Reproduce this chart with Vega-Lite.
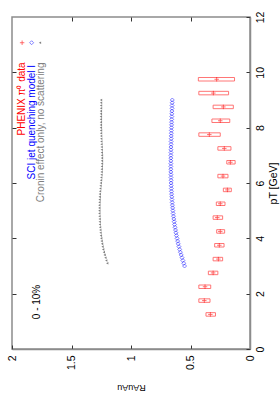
{
  "$schema": "https://vega.github.io/schema/vega-lite/v6.json",
  "autosize": "none",
  "width": 238,
  "height": 332,
  "padding": {"left": 12, "top": 17, "right": 30, "bottom": 51},
  "background": "white",
  "config": {
    "view": {"stroke": "#8c8c8c", "strokeWidth": 1.5},
    "font": "Liberation Sans",
    "axis": {"grid": false, "domainColor": "#8c8c8c", "domainWidth": 1.5, "tickColor": "#333333", "labelFont": "Liberation Sans", "titleFont": "Liberation Sans", "labelFontSize": 10, "titleFontSize": 11, "titleFontWeight": "normal", "labelColor": "#000000", "titleColor": "#000000"}
  },
  "datasets": {
    "phenix": [
      {"pT": 1.25, "R": 0.333, "lo": 0.29, "hi": 0.37},
      {"pT": 1.75, "R": 0.384, "lo": 0.336, "hi": 0.43},
      {"pT": 2.25, "R": 0.378, "lo": 0.33, "hi": 0.43},
      {"pT": 2.75, "R": 0.31, "lo": 0.27, "hi": 0.35},
      {"pT": 3.25, "R": 0.266, "lo": 0.23, "hi": 0.31},
      {"pT": 3.75, "R": 0.258, "lo": 0.218, "hi": 0.297},
      {"pT": 4.25, "R": 0.25, "lo": 0.213, "hi": 0.28},
      {"pT": 4.75, "R": 0.275, "lo": 0.23, "hi": 0.31},
      {"pT": 5.25, "R": 0.25, "lo": 0.21, "hi": 0.283},
      {"pT": 5.75, "R": 0.19, "lo": 0.157, "hi": 0.224},
      {"pT": 6.25, "R": 0.227, "lo": 0.185, "hi": 0.27},
      {"pT": 6.75, "R": 0.165, "lo": 0.125, "hi": 0.195},
      {"pT": 7.25, "R": 0.216, "lo": 0.16, "hi": 0.27},
      {"pT": 7.75, "R": 0.342, "lo": 0.25, "hi": 0.43},
      {"pT": 8.25, "R": 0.25, "lo": 0.17, "hi": 0.32},
      {"pT": 8.75, "R": 0.224, "lo": 0.14, "hi": 0.31},
      {"pT": 9.25, "R": 0.308, "lo": 0.18, "hi": 0.43},
      {"pT": 9.75, "R": 0.28, "lo": 0.13, "hi": 0.434}
    ],
    "sci": [
      {"pT": 3.0, "R": 0.550}, {"pT": 3.1, "R": 0.557}, {"pT": 3.2, "R": 0.564}, {"pT": 3.3, "R": 0.571}, {"pT": 3.4, "R": 0.578},
      {"pT": 3.5, "R": 0.585}, {"pT": 3.6, "R": 0.591}, {"pT": 3.7, "R": 0.597}, {"pT": 3.8, "R": 0.603}, {"pT": 3.9, "R": 0.608},
      {"pT": 4.0, "R": 0.613}, {"pT": 4.1, "R": 0.618}, {"pT": 4.2, "R": 0.622}, {"pT": 4.3, "R": 0.626}, {"pT": 4.4, "R": 0.630},
      {"pT": 4.5, "R": 0.634}, {"pT": 4.6, "R": 0.637}, {"pT": 4.7, "R": 0.640}, {"pT": 4.8, "R": 0.643}, {"pT": 4.9, "R": 0.646},
      {"pT": 5.0, "R": 0.648}, {"pT": 5.1, "R": 0.650}, {"pT": 5.2, "R": 0.652}, {"pT": 5.3, "R": 0.654}, {"pT": 5.4, "R": 0.656},
      {"pT": 5.5, "R": 0.657}, {"pT": 5.6, "R": 0.659}, {"pT": 5.7, "R": 0.660}, {"pT": 5.8, "R": 0.661}, {"pT": 5.9, "R": 0.662},
      {"pT": 6.0, "R": 0.663}, {"pT": 6.1, "R": 0.663}, {"pT": 6.2, "R": 0.664}, {"pT": 6.3, "R": 0.664}, {"pT": 6.4, "R": 0.665},
      {"pT": 6.5, "R": 0.665}, {"pT": 6.6, "R": 0.665}, {"pT": 6.7, "R": 0.665}, {"pT": 6.8, "R": 0.665}, {"pT": 6.9, "R": 0.665},
      {"pT": 7.0, "R": 0.665}, {"pT": 7.1, "R": 0.664}, {"pT": 7.2, "R": 0.664}, {"pT": 7.3, "R": 0.664}, {"pT": 7.4, "R": 0.663},
      {"pT": 7.5, "R": 0.663}, {"pT": 7.6, "R": 0.662}, {"pT": 7.7, "R": 0.662}, {"pT": 7.8, "R": 0.661}, {"pT": 7.9, "R": 0.661},
      {"pT": 8.0, "R": 0.660}, {"pT": 8.1, "R": 0.659}, {"pT": 8.2, "R": 0.659}, {"pT": 8.3, "R": 0.658}, {"pT": 8.4, "R": 0.657},
      {"pT": 8.5, "R": 0.657}, {"pT": 8.6, "R": 0.656}, {"pT": 8.7, "R": 0.655}, {"pT": 8.8, "R": 0.655}, {"pT": 8.9, "R": 0.654},
      {"pT": 9.0, "R": 0.653}
    ],
    "cronin": [
      {"pT": 3.1, "R": 1.200}, {"pT": 3.2, "R": 1.208}, {"pT": 3.3, "R": 1.215}, {"pT": 3.4, "R": 1.222},
      {"pT": 3.5, "R": 1.228}, {"pT": 3.6, "R": 1.234}, {"pT": 3.7, "R": 1.239}, {"pT": 3.8, "R": 1.243}, {"pT": 3.9, "R": 1.247},
      {"pT": 4.0, "R": 1.250}, {"pT": 4.1, "R": 1.253}, {"pT": 4.2, "R": 1.256}, {"pT": 4.3, "R": 1.258}, {"pT": 4.4, "R": 1.260},
      {"pT": 4.5, "R": 1.262}, {"pT": 4.6, "R": 1.263}, {"pT": 4.7, "R": 1.264}, {"pT": 4.8, "R": 1.265}, {"pT": 4.9, "R": 1.266},
      {"pT": 5.0, "R": 1.266}, {"pT": 5.1, "R": 1.266}, {"pT": 5.2, "R": 1.266}, {"pT": 5.3, "R": 1.265}, {"pT": 5.4, "R": 1.264},
      {"pT": 5.5, "R": 1.263}, {"pT": 5.6, "R": 1.262}, {"pT": 5.7, "R": 1.260}, {"pT": 5.8, "R": 1.258}, {"pT": 5.9, "R": 1.256},
      {"pT": 6.0, "R": 1.254}, {"pT": 6.1, "R": 1.252}, {"pT": 6.2, "R": 1.250}, {"pT": 6.3, "R": 1.248}, {"pT": 6.4, "R": 1.247},
      {"pT": 6.5, "R": 1.246}, {"pT": 6.6, "R": 1.245}, {"pT": 6.7, "R": 1.244}, {"pT": 6.8, "R": 1.244}, {"pT": 6.9, "R": 1.244},
      {"pT": 7.0, "R": 1.244}, {"pT": 7.1, "R": 1.245}, {"pT": 7.2, "R": 1.246}, {"pT": 7.3, "R": 1.247}, {"pT": 7.4, "R": 1.248},
      {"pT": 7.5, "R": 1.249}, {"pT": 7.6, "R": 1.250}, {"pT": 7.7, "R": 1.251}, {"pT": 7.8, "R": 1.252}, {"pT": 7.9, "R": 1.252},
      {"pT": 8.0, "R": 1.253}, {"pT": 8.1, "R": 1.253}, {"pT": 8.2, "R": 1.253}, {"pT": 8.3, "R": 1.253}, {"pT": 8.4, "R": 1.253},
      {"pT": 8.5, "R": 1.253}, {"pT": 8.6, "R": 1.253}, {"pT": 8.7, "R": 1.252}, {"pT": 8.8, "R": 1.252}, {"pT": 8.9, "R": 1.252},
      {"pT": 9.0, "R": 1.252}
    ],
    "legend": [
      {"series": "phenix", "label": "PHENIX π⁰ data", "R": 1.913, "pT": 9.04, "mR": 1.915, "mpT": 11.07},
      {"series": "sci", "label": "SCI jet quenching model I", "R": 1.836, "pT": 8.2, "mR": 1.835, "mpT": 11.07},
      {"series": "cronin", "label": "Cronin effect only, no scattering", "R": 1.76, "pT": 7.83, "mR": 1.765, "mpT": 11.07}
    ],
    "notes": [
      {"label": "0 - 10%", "R": 1.79, "pT": 1.7}
    ]
  },
  "resolve": {"axis": {"x": "independent", "y": "independent"}},
  "layer": [
    {
      "mark": {"type": "rule", "color": "#88e888", "strokeDash": [2, 1.5], "strokeWidth": 1},
      "encoding": {
        "x": {"datum": 1, "type": "quantitative", "scale": {"domain": [0, 2], "reverse": true, "nice": false},
          "axis": {"orient": "bottom", "values": [0, 0.5, 1, 1.5, 2], "tickSize": -4, "labelAngle": 270, "labelPadding": 10, "labelFontSize": 10.5, "title": "RAuAu", "titleAngle": 180, "titleAlign": "center", "titleBaseline": "middle", "titleX": 119, "titleY": 38, "titleFontSize": 9, "format": "~g"}}
      }
    },
    {
      "data": {"name": "phenix"},
      "mark": {"type": "rect", "height": 3.5, "fill": null, "fillOpacity": 0, "stroke": "#ff6666", "strokeWidth": 0.9},
      "encoding": {
        "x": {"field": "lo", "type": "quantitative", "scale": {"domain": [0, 2], "reverse": true, "nice": false},
          "axis": {"orient": "top", "values": [0.5, 1, 1.5], "tickSize": -4, "labels": false, "title": null, "domain": false}},
        "x2": {"field": "hi"},
        "y": {"field": "pT", "type": "quantitative", "scale": {"domain": [0, 12], "nice": false},
          "axis": {"orient": "right", "values": [0, 2, 4, 6, 8, 10, 12], "tickSize": -4, "labelAngle": 270, "labelPadding": 9, "labelFontSize": 10.5, "title": "pT [GeV]", "titleAngle": 270, "titleAlign": "center", "titleBaseline": "middle", "titleX": 23, "titleY": 166, "titleFontSize": 10.5}}
      }
    },
    {
      "data": {"name": "phenix"},
      "mark": {"type": "point", "shape": "M-1,0H1M0,-1V1", "filled": false, "stroke": "#ff0000", "strokeWidth": 0.8, "size": 20},
      "encoding": {
        "x": {"field": "R", "type": "quantitative", "scale": {"domain": [0, 2], "reverse": true, "nice": false}, "axis": null},
        "y": {"field": "pT", "type": "quantitative", "scale": {"domain": [0, 12], "nice": false},
          "axis": {"orient": "left", "values": [2, 4, 6, 8, 10], "tickSize": -4, "labels": false, "title": null, "domain": false}}
      }
    },
    {
      "data": {"name": "sci"},
      "mark": {"type": "point", "shape": "diamond", "filled": false, "stroke": "#1f1fff", "strokeWidth": 0.8, "size": 16},
      "encoding": {
        "x": {"field": "R", "type": "quantitative", "scale": {"domain": [0, 2], "reverse": true, "nice": false}, "axis": null},
        "y": {"field": "pT", "type": "quantitative", "scale": {"domain": [0, 12], "nice": false}, "axis": null}
      }
    },
    {
      "data": {"name": "cronin"},
      "mark": {"type": "point", "shape": "triangle-left", "filled": true, "color": "#808080", "size": 7, "opacity": 1},
      "encoding": {
        "x": {"field": "R", "type": "quantitative", "scale": {"domain": [0, 2], "reverse": true, "nice": false}, "axis": null},
        "y": {"field": "pT", "type": "quantitative", "scale": {"domain": [0, 12], "nice": false}, "axis": null}
      }
    },
    {
      "data": {"name": "legend"},
      "transform": [{"filter": "datum.series === 'phenix'"}],
      "mark": {"type": "point", "shape": "M-1,0H1M0,-1V1", "filled": false, "stroke": "#ff0000", "strokeWidth": 0.8, "size": 20},
      "encoding": {
        "x": {"field": "mR", "type": "quantitative", "scale": {"domain": [0, 2], "reverse": true, "nice": false}, "axis": null},
        "y": {"field": "mpT", "type": "quantitative", "scale": {"domain": [0, 12], "nice": false}, "axis": null}
      }
    },
    {
      "data": {"name": "legend"},
      "transform": [{"filter": "datum.series === 'sci'"}],
      "mark": {"type": "point", "shape": "diamond", "filled": false, "stroke": "#1f1fff", "strokeWidth": 0.8, "size": 16},
      "encoding": {
        "x": {"field": "mR", "type": "quantitative", "scale": {"domain": [0, 2], "reverse": true, "nice": false}, "axis": null},
        "y": {"field": "mpT", "type": "quantitative", "scale": {"domain": [0, 12], "nice": false}, "axis": null}
      }
    },
    {
      "data": {"name": "legend"},
      "transform": [{"filter": "datum.series === 'cronin'"}],
      "mark": {"type": "point", "shape": "triangle-left", "filled": true, "color": "#808080", "size": 7, "opacity": 1},
      "encoding": {
        "x": {"field": "mR", "type": "quantitative", "scale": {"domain": [0, 2], "reverse": true, "nice": false}, "axis": null},
        "y": {"field": "mpT", "type": "quantitative", "scale": {"domain": [0, 12], "nice": false}, "axis": null}
      }
    },
    {
      "data": {"name": "legend"},
      "mark": {"type": "text", "angle": 270, "align": "center", "baseline": "middle", "fontSize": 10, "font": "Liberation Sans"},
      "encoding": {
        "x": {"field": "R", "type": "quantitative", "scale": {"domain": [0, 2], "reverse": true, "nice": false}, "axis": null},
        "y": {"field": "pT", "type": "quantitative", "scale": {"domain": [0, 12], "nice": false}, "axis": null},
        "text": {"field": "label"},
        "color": {"field": "series", "type": "nominal", "scale": {"domain": ["phenix", "sci", "cronin"], "range": ["#ff0000", "#0000ff", "#808080"]}, "legend": null}
      }
    },
    {
      "data": {"name": "notes"},
      "mark": {"type": "text", "angle": 270, "align": "center", "baseline": "middle", "fontSize": 10, "font": "Liberation Sans", "color": "#000000"},
      "encoding": {
        "x": {"field": "R", "type": "quantitative", "scale": {"domain": [0, 2], "reverse": true, "nice": false}, "axis": null},
        "y": {"field": "pT", "type": "quantitative", "scale": {"domain": [0, 12], "nice": false}, "axis": null},
        "text": {"field": "label"}
      }
    }
  ]
}
